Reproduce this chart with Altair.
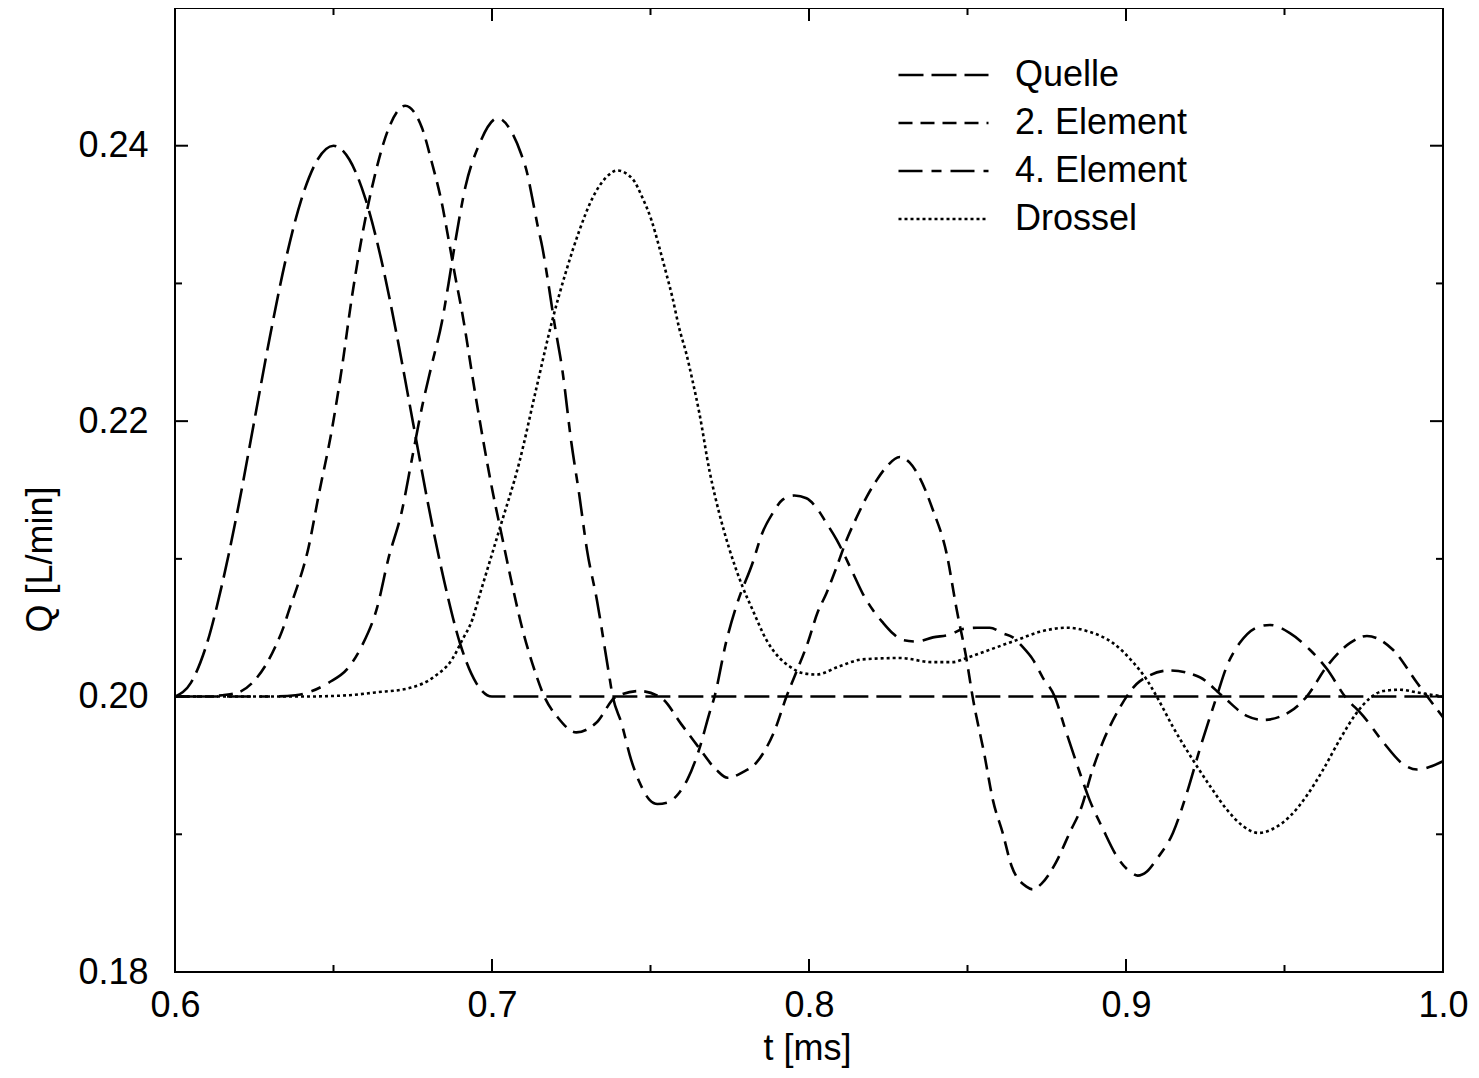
import altair as alt
import pandas as pd

# ---------------- data ----------------
series_names = ["Quelle", "2. Element", "4. Element", "Drossel"]

quelle_t = [0.600, 0.605, 0.610, 0.615, 0.620, 0.625, 0.630, 0.635, 0.640, 0.645,
            0.650, 0.655, 0.660, 0.665, 0.670, 0.675, 0.680, 0.685, 0.690, 0.695,
            0.700, 0.750, 0.800, 0.850, 0.900, 0.950, 1.000]
quelle_v = [0.2000, 0.2010, 0.2038, 0.2083, 0.2138, 0.2200, 0.2262, 0.2318, 0.2362, 0.2390,
            0.2400, 0.2390, 0.2362, 0.2318, 0.2262, 0.2200, 0.2138, 0.2083, 0.2038, 0.2010,
            0.2000, 0.2000, 0.2000, 0.2000, 0.2000, 0.2000, 0.2000]

el2_t = [0.600, 0.610, 0.615, 0.620, 0.6252, 0.6284, 0.6316, 0.6340, 0.6363, 0.6380,
         0.6421, 0.6453, 0.6495, 0.6526, 0.6558, 0.6589, 0.6631, 0.6673, 0.6726, 0.6779,
         0.6810, 0.6842, 0.6863, 0.6884, 0.6905, 0.6947, 0.6976, 0.7001, 0.7029, 0.7060,
         0.7096, 0.7133, 0.7165, 0.7207, 0.7266, 0.7329, 0.7392, 0.7465, 0.7534, 0.7597,
         0.7649, 0.7707, 0.7743, 0.7790, 0.7834, 0.7866, 0.7891, 0.7929, 0.7955, 0.7996,
         0.8027, 0.8055, 0.8087, 0.8119, 0.8150, 0.8182, 0.8213, 0.8245, 0.8286, 0.8317,
         0.8349, 0.8390, 0.8434, 0.8466, 0.8497, 0.8516, 0.8554, 0.8580, 0.8611, 0.8639,
         0.8686, 0.8706, 0.8733, 0.8780, 0.8822, 0.8860, 0.8892, 0.8927, 0.8971, 0.9043,
         0.9138, 0.9233, 0.9306, 0.9381, 0.9432, 0.9517, 0.9570, 0.9634, 0.9707, 0.9760,
         0.9842, 0.9918, 1.0000]
el2_v = [0.2000, 0.2000, 0.2001, 0.2003, 0.2012, 0.2022, 0.2036, 0.2049, 0.2065, 0.2076,
         0.2108, 0.2146, 0.2194, 0.2238, 0.2290, 0.2333, 0.2379, 0.2412, 0.2429, 0.2413,
         0.2388, 0.2358, 0.2332, 0.2305, 0.2280, 0.2220, 0.2181, 0.2150, 0.2119, 0.2085,
         0.2049, 0.2020, 0.2000, 0.1985, 0.1974, 0.1981, 0.2000, 0.2004, 0.1999, 0.1980,
         0.1964, 0.1947, 0.1941, 0.1945, 0.1952, 0.1963, 0.1975, 0.2000, 0.2015, 0.2039,
         0.2061, 0.2075, 0.2094, 0.2114, 0.2130, 0.2145, 0.2157, 0.2167, 0.2174, 0.2170,
         0.2159, 0.2136, 0.2104, 0.2063, 0.2027, 0.2000, 0.1957, 0.1925, 0.1901, 0.1877,
         0.1862, 0.1860, 0.1864, 0.1880, 0.1901, 0.1920, 0.1945, 0.1967, 0.1988, 0.2011,
         0.2019, 0.2014, 0.2000, 0.1986, 0.1983, 0.1989, 0.2000, 0.2022, 0.2039, 0.2044,
         0.2034, 0.2010, 0.1985]

el4_t = [0.600, 0.630, 0.638, 0.6432, 0.6484, 0.6547, 0.6590, 0.6638, 0.6673, 0.6716,
         0.6747, 0.6779, 0.6810, 0.6842, 0.6863, 0.6884, 0.6916, 0.6958, 0.7018, 0.7064,
         0.7092, 0.7111, 0.7127, 0.7143, 0.7159, 0.7175, 0.7197, 0.7222, 0.7250, 0.7275,
         0.7300, 0.7331, 0.7365, 0.7381, 0.7408, 0.7439, 0.7465, 0.7497, 0.7522, 0.7553,
         0.7590, 0.7617, 0.7654, 0.7686, 0.7702, 0.7739, 0.7774, 0.7822, 0.7853, 0.7885,
         0.7917, 0.7954, 0.7992, 0.8024, 0.8055, 0.8087, 0.8138, 0.8169, 0.8201, 0.8232,
         0.8264, 0.8296, 0.8340, 0.8391, 0.8444, 0.8485, 0.8530, 0.8570, 0.8611, 0.8643,
         0.8674, 0.8706, 0.8737, 0.8775, 0.8806, 0.8848, 0.8885, 0.8927, 0.8971, 0.9018,
         0.9037, 0.9066, 0.9097, 0.9148, 0.9192, 0.9233, 0.9286, 0.9318, 0.9359, 0.9422,
         0.9454, 0.9517, 0.9580, 0.9634, 0.9691, 0.9748, 0.9811, 0.9874, 0.9918, 0.9959,
         1.0000]
el4_v = [0.2000, 0.2000, 0.2001, 0.2004, 0.2010, 0.2021, 0.2037, 0.2065, 0.2100, 0.2135,
         0.2172, 0.2210, 0.2241, 0.2272, 0.2300, 0.2330, 0.2370, 0.2400, 0.2420, 0.2409,
         0.2394, 0.2380, 0.2362, 0.2343, 0.2326, 0.2304, 0.2271, 0.2237, 0.2185, 0.2147,
         0.2106, 0.2070, 0.2022, 0.2000, 0.1981, 0.1954, 0.1938, 0.1925, 0.1922, 0.1923,
         0.1930, 0.1940, 0.1962, 0.1988, 0.2000, 0.2040, 0.2068, 0.2097, 0.2119, 0.2133,
         0.2143, 0.2146, 0.2144, 0.2137, 0.2126, 0.2114, 0.2090, 0.2075, 0.2063, 0.2054,
         0.2046, 0.2041, 0.2040, 0.2043, 0.2045, 0.2049, 0.2050, 0.2050, 0.2046, 0.2043,
         0.2036, 0.2027, 0.2014, 0.2000, 0.1978, 0.1949, 0.1925, 0.1904, 0.1884, 0.1872,
         0.1870, 0.1873, 0.1882, 0.1901, 0.1930, 0.1962, 0.2000, 0.2022, 0.2039, 0.2051,
         0.2052, 0.2046, 0.2034, 0.2020, 0.2000, 0.1986, 0.1967, 0.1951, 0.1947, 0.1949,
         0.1953]

dros_t = [0.600, 0.640, 0.655, 0.6632, 0.6737, 0.6821, 0.6874, 0.6906, 0.6938, 0.6960,
          0.7023, 0.7086, 0.7140, 0.7190, 0.7234, 0.7275, 0.7317, 0.7360, 0.7395, 0.7443,
          0.7475, 0.7503, 0.7528, 0.7550, 0.7569, 0.7590, 0.7613, 0.7632, 0.7654, 0.7686,
          0.7717, 0.7749, 0.7790, 0.7822, 0.7866, 0.7907, 0.7938, 0.7980, 0.8024, 0.8096,
          0.8169, 0.8286, 0.8390, 0.8453, 0.8497, 0.8570, 0.8655, 0.8728, 0.8812, 0.8885,
          0.8958, 0.9022, 0.9066, 0.9097, 0.9148, 0.9211, 0.9265, 0.9318, 0.9369, 0.9417,
          0.9464, 0.9517, 0.9570, 0.9622, 0.9675, 0.9727, 0.9770, 0.9811, 0.9864, 0.9918,
          1.0000]
dros_v = [0.2000, 0.2000, 0.2001, 0.2003, 0.2006, 0.2015, 0.2027, 0.2041, 0.2056, 0.2073,
          0.2121, 0.2170, 0.2224, 0.2273, 0.2309, 0.2338, 0.2362, 0.2377, 0.2382, 0.2376,
          0.2362, 0.2346, 0.2326, 0.2307, 0.2290, 0.2268, 0.2249, 0.2230, 0.2206, 0.2164,
          0.2133, 0.2107, 0.2080, 0.2063, 0.2041, 0.2028, 0.2022, 0.2017, 0.2016, 0.2022,
          0.2027, 0.2028, 0.2025, 0.2025, 0.2028, 0.2034, 0.2041, 0.2047, 0.2050, 0.2047,
          0.2039, 0.2025, 0.2012, 0.2000, 0.1978, 0.1954, 0.1935, 0.1918, 0.1906, 0.1901,
          0.1904, 0.1913, 0.1928, 0.1947, 0.1969, 0.1988, 0.1999, 0.2004, 0.2005, 0.2003,
          0.2000]

x_major = [0.6, 0.7, 0.8, 0.9, 1.0]
x_minor = [0.65, 0.75, 0.85, 0.95]
y_major = [0.18, 0.20, 0.22, 0.24]
y_minor = [0.19, 0.21, 0.23]

# ---------------- build table ----------------
rows = []
for name, ts, vs in zip(series_names,
                        [quelle_t, el2_t, el4_t, dros_t],
                        [quelle_v, el2_v, el4_v, dros_v]):
    for t, v in zip(ts, vs):
        rows.append({"t": t, "Q": v, "series": name})
df = pd.DataFrame(rows)

W, H = 1268, 964
FONT = "Liberation Sans"
FS = 36
dashes = [[25, 8], [14, 8], [24, 9, 10, 9], [3, 3]]

x_scale = alt.Scale(domain=[0.6, 1.0], nice=False, zero=False)
y_scale = alt.Scale(domain=[0.18, 0.25], nice=False, zero=False)

x_axis = alt.Axis(values=x_major, format=".1f", title="t [ms]",
                  ticks=False, domain=False, grid=False,
                  labelPadding=16, labelFlush=False, labelOverlap=False,
                  labelFont=FONT, labelFontSize=FS, labelColor="black",
                  titleFont=FONT, titleFontSize=FS, titleFontWeight="normal",
                  titleColor="black", titleX=632, titleY=76,
                  titleBaseline="middle", titleAlign="center")
y_axis = alt.Axis(values=y_major, format=".2f", title="Q [L/min]",
                  ticks=False, domain=False, grid=False,
                  labelPadding=27, labelFlush=False, labelOverlap=False,
                  labelFont=FONT, labelFontSize=FS, labelColor="black",
                  titleFont=FONT, titleFontSize=FS, titleFontWeight="normal",
                  titleColor="black", titleAngle=-90, titleX=-135, titleY=551,
                  titleBaseline="middle", titleAlign="center")

xa = alt.X("t:Q", scale=x_scale, axis=x_axis)
ya = alt.Y("Q:Q", scale=y_scale, axis=y_axis)

lines = alt.Chart(df).mark_line(
    color="black", strokeWidth=2.6, interpolate="monotone", clip=True
).encode(
    x=xa,
    y=ya,
    strokeDash=alt.StrokeDash(
        "series:N",
        scale=alt.Scale(domain=series_names, range=dashes),
        legend=alt.Legend(
            title=None, orient="none", legendX=722, legendY=43,
            symbolType="stroke", symbolSize=8100, symbolStrokeWidth=2.6,
            symbolStrokeColor="black", labelFont=FONT, labelFontSize=FS,
            labelColor="black", labelOffset=25, clipHeight=48, rowPadding=0,
            padding=0, labelLimit=400,
        ),
    ),
)

tick_style = dict(color="black", strokeWidth=2)
xmaj = alt.Chart(pd.DataFrame({"t": x_major})).mark_rule(**tick_style)
xmin = alt.Chart(pd.DataFrame({"t": x_minor})).mark_rule(**tick_style)
ymaj = alt.Chart(pd.DataFrame({"Q": y_major})).mark_rule(**tick_style)
ymin = alt.Chart(pd.DataFrame({"Q": y_minor})).mark_rule(**tick_style)

ticks = [
    xmaj.encode(x=xa, y=alt.value(H), y2=alt.value(H - 13)),
    xmaj.encode(x=xa, y=alt.value(0), y2=alt.value(13)),
    xmin.encode(x=xa, y=alt.value(H), y2=alt.value(H - 7)),
    xmin.encode(x=xa, y=alt.value(0), y2=alt.value(7)),
    ymaj.encode(y=ya, x=alt.value(0), x2=alt.value(13)),
    ymaj.encode(y=ya, x=alt.value(W), x2=alt.value(W - 13)),
    ymin.encode(y=ya, x=alt.value(0), x2=alt.value(7)),
    ymin.encode(y=ya, x=alt.value(W), x2=alt.value(W - 7)),
]

chart = alt.layer(lines, *ticks).properties(
    width=W, height=H,
    padding={"left": 167, "top": 0, "right": 25, "bottom": 100},
    autosize=alt.AutoSizeParams(type="none"),
    background="white",
).configure_view(stroke="black", strokeWidth=2)

chart.save("out.html", embed_options={"renderer": "svg", "actions": False})
